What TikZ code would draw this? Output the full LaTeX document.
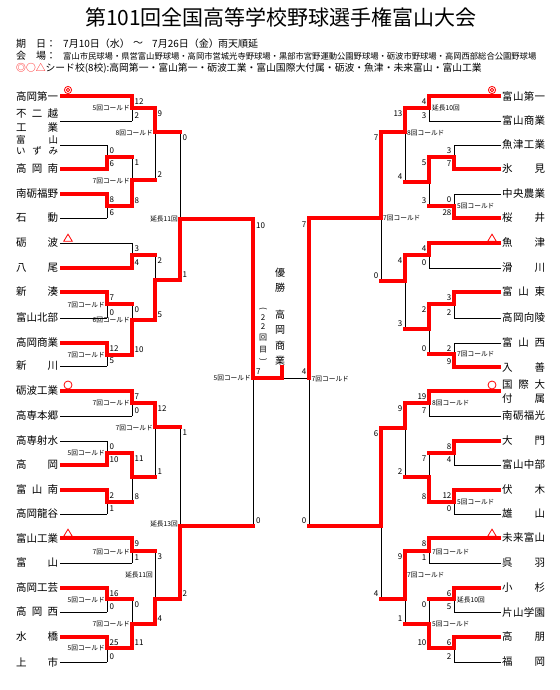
\documentclass[tikz,border=0pt]{standalone}
\usepackage{fontspec}
\setmainfont{Noto Sans CJK JP}
\pgfdeclarelayer{back}
\pgfdeclarelayer{bg}
\pgfsetlayers{back,bg,main}
\tikzset{
  blk/.style={line width=0.8pt, black},
  win/.style={line width=4pt, red, line cap=rect},
  winn/.style={line width=4pt, red},
  sc/.style={font=\fontsize{8}{8}\selectfont, inner sep=0pt},
  lbl/.style={font=\fontsize{6.7}{6.7}\selectfont, inner sep=0pt},
  tn/.style={font=\fontsize{10.5}{10.5}\selectfont, inner sep=0pt},
  tns/.style={font=\fontsize{9.5}{9.5}\selectfont, inner sep=0pt},
  hd/.style={font=\fontsize{10}{10}\selectfont, inner sep=0pt, anchor=west},
  vt/.style={font=\fontsize{10}{10}\selectfont, inner sep=0pt},
  vts/.style={font=\fontsize{8}{8}\selectfont, inner sep=0pt},
  mk/.style={red, line width=0.8pt},
}
% left match: x, xnext, ytop, ybot, ywin, winner(t/b), score top, score bottom
\newcommand{\bkL}[8]{%
  \begin{pgfonlayer}{bg}\draw[blk] (#1,#3) -- (#1,#4);\end{pgfonlayer}
  \if t#6\draw[win] (#1,#3) -- (#1,#5) -- (#2,#5);%
  \else\draw[win] (#1,#4) -- (#1,#5) -- (#2,#5);\fi
  \node[sc,anchor=west] at (#1+2.4,#3+6) {#7};
  \node[sc,anchor=west] at (#1+2.4,#4-5) {#8};
}
\newcommand{\bkR}[8]{%
  \begin{pgfonlayer}{bg}\draw[blk] (#1,#3) -- (#1,#4);\end{pgfonlayer}
  \if t#6\draw[win] (#1,#3) -- (#1,#5) -- (#2,#5);%
  \else\draw[win] (#1,#4) -- (#1,#5) -- (#2,#5);\fi
  \node[sc,anchor=east] at (#1-2.4,#3+6) {#7};
  \node[sc,anchor=east] at (#1-2.4,#4-5) {#8};
}
% name lines: y, xend, red(1/0)
\newcommand{\nlL}[3]{%
  \begin{pgfonlayer}{bg}\draw[blk] (60,#1) -- (#2,#1);\end{pgfonlayer}
  \ifnum#3=1 \draw[winn] (60,#1) -- (#2,#1);\fi}
\newcommand{\nlR}[3]{%
  \begin{pgfonlayer}{bg}\draw[blk] (501,#1) -- (#2,#1);\end{pgfonlayer}
  \ifnum#3=1 \draw[winn] (501,#1) -- (#2,#1);\fi}
\newcommand{\tnL}[2]{\node[tn,anchor=west] at (16,#1) {\makebox[42pt][s]{#2}};}
\newcommand{\tnR}[2]{\node[tn,anchor=west] at (502,#1) {\makebox[43pt][s]{#2}};}
\newcommand{\mkDbl}[2]{\draw[mk] (#1,#2) circle[radius=3.6pt]; \draw[mk] (#1,#2) circle[radius=1.7pt];}
\newcommand{\mkCir}[2]{\draw[mk] (#1,#2) circle[radius=4pt];}
\newcommand{\mkTri}[2]{\draw[mk] (#1-4.3,#2+3.3) -- (#1,#2-3.8) -- (#1+4.3,#2+3.3) -- cycle;}
\begin{document}
\begin{tikzpicture}[x=1pt,y=-1pt]
\useasboundingbox (0,0) rectangle (559,690);
\begin{pgfonlayer}{back}\fill[white] (0,0) rectangle (559,690);\end{pgfonlayer}

% ---------- header ----------
\node[font=\fontsize{21}{21}\selectfont, inner sep=0pt] (title) at (281,18) {第101回全国高等学校野球選手権富山大会};
\node[hd] (h1a) at (16,44) {期};
\node[hd] (h1b) at (36,44) {日：};
\node[hd] (h1c) at (63,44) {7月10日（水）};
\node[hd] (h1d) at (133,44) {～};
\node[hd] (h1e) at (152,44) {7月26日（金）};
\node[hd] (h1f) at (218,44) {雨天順延};
\node[hd] (h2a) at (16,56) {会};
\node[hd] (h2b) at (36,56) {場：};
\node[hd, font=\fontsize{8.3}{8.3}\selectfont] (h2c) at (63,56) {富山市民球場・県営富山野球場・高岡市営城光寺野球場・黒部市宮野運動公園野球場・砺波市野球場・高岡西部総合公園野球場};
\node[hd, font=\fontsize{9.8}{9.8}\selectfont] (h3) at (16,68) {\textcolor{red}{◎○△}シード校(8校):高岡第一・富山第一・砺波工業・富山国際大付属・砺波・魚津・未来富山・富山工業};

% ---------- left team names ----------
\tnL{96}{高\hfill 岡\hfill 第\hfill 一}
\node[tn,anchor=west] at (16,113) {\makebox[42pt][s]{不\hfill 二\hfill 越}};
\node[tn,anchor=west] at (16,128) {\makebox[42pt][s]{工\hfill 業}};
\node[tns,anchor=west] at (16,140) {\makebox[42pt][s]{富\hfill 山}};
\node[tns,anchor=west] at (16,151) {\makebox[42pt][s]{い\hfill ず\hfill み}};
\tnL{169}{高\hfill 岡\hfill 南}
\tnL{194}{南\hfill 砺\hfill 福\hfill 野}
\tnL{218}{石\hfill 動}
\tnL{243}{砺\hfill 波}
\tnL{268}{八\hfill 尾}
\tnL{292}{新\hfill 湊}
\tnL{318}{富\hfill 山\hfill 北\hfill 部}
\tnL{343}{高\hfill 岡\hfill 商\hfill 業}
\tnL{366}{新\hfill 川}
\tnL{391}{砺\hfill 波\hfill 工\hfill 業}
\tnL{416}{高\hfill 専\hfill 本\hfill 郷}
\tnL{441}{高\hfill 専\hfill 射\hfill 水}
\tnL{465}{高\hfill 岡}
\tnL{490}{富\hfill 山\hfill 南}
\tnL{514}{高\hfill 岡\hfill 龍\hfill 谷}
\tnL{538}{富\hfill 山\hfill 工\hfill 業}
\tnL{563}{富\hfill 山}
\tnL{588}{高\hfill 岡\hfill 工\hfill 芸}
\tnL{612}{高\hfill 岡\hfill 西}
\tnL{637}{水\hfill 橋}
\tnL{662}{上\hfill 市}

% ---------- right team names ----------
\tnR{96}{富\hfill 山\hfill 第\hfill 一}
\tnR{121}{富\hfill 山\hfill 商\hfill 業}
\tnR{145}{魚\hfill 津\hfill 工\hfill 業}
\tnR{169}{氷\hfill 見}
\tnR{194}{中\hfill 央\hfill 農\hfill 業}
\tnR{218}{桜\hfill 井}
\tnR{243}{魚\hfill 津}
\tnR{268}{滑\hfill 川}
\tnR{292}{富\hfill 山\hfill 東}
\tnR{318}{高\hfill 岡\hfill 向\hfill 陵}
\tnR{343}{富\hfill 山\hfill 西}
\tnR{367}{入\hfill 善}
\node[tn,anchor=west] at (502,385) {\makebox[43pt][s]{国\hfill 際\hfill 大}};
\node[tn,anchor=west] at (502,399) {\makebox[43pt][s]{付\hfill 属}};
\tnR{416}{南\hfill 砺\hfill 福\hfill 光}
\tnR{441}{大\hfill 門}
\tnR{465}{富\hfill 山\hfill 中\hfill 部}
\tnR{490}{伏\hfill 木}
\tnR{514}{雄\hfill 山}
\tnR{538}{未\hfill 来\hfill 富\hfill 山}
\tnR{563}{呉\hfill 羽}
\tnR{588}{小\hfill 杉}
\tnR{612}{片\hfill 山\hfill 学\hfill 園}
\tnR{637}{高\hfill 朋}
\tnR{662}{福\hfill 岡}

% ---------- seed marks ----------
\mkDbl{68}{90} \mkTri{68}{238} \mkCir{68}{385} \mkTri{68}{533}
\mkDbl{492}{90} \mkTri{492}{238} \mkCir{492}{385} \mkTri{492}{533}

% ---------- left name lines ----------
\nlL{96}{132}{1} \nlL{121}{132}{0} \nlL{145}{107}{0} \nlL{169}{107}{1}
\nlL{194}{107}{1} \nlL{218}{107}{0} \nlL{243}{132}{0} \nlL{268}{132}{1}
\nlL{292}{107}{1} \nlL{318}{107}{0} \nlL{343}{107}{1} \nlL{366}{107}{0}
\nlL{391}{132}{1} \nlL{416}{132}{0} \nlL{441}{107}{0} \nlL{465}{107}{1}
\nlL{490}{107}{1} \nlL{514}{107}{0} \nlL{538}{132}{1} \nlL{563}{132}{0}
\nlL{588}{107}{1} \nlL{612}{107}{0} \nlL{637}{107}{1} \nlL{662}{107}{0}

% ---------- right name lines ----------
\nlR{96}{429}{1} \nlR{121}{429}{0} \nlR{145}{454}{0} \nlR{169}{454}{1}
\nlR{194}{454}{0} \nlR{218}{454}{1} \nlR{243}{429}{1} \nlR{268}{429}{0}
\nlR{292}{454}{1} \nlR{318}{454}{0} \nlR{343}{454}{0} \nlR{367}{454}{1}
\nlR{391}{429}{1} \nlR{416}{429}{0} \nlR{441}{454}{1} \nlR{465}{454}{0}
\nlR{490}{454}{1} \nlR{514}{454}{0} \nlR{538}{429}{1} \nlR{563}{429}{0}
\nlR{588}{454}{1} \nlR{612}{454}{0} \nlR{637}{454}{1} \nlR{662}{454}{0}

% ---------- left matches ----------
\bkL{132}{155}{96}{121}{108}{t}{12}{2}
\bkL{107}{132}{145}{169}{157}{b}{0}{6}
\bkL{107}{132}{194}{218}{206}{t}{8}{6}
\bkL{132}{155}{157}{206}{180}{b}{1}{8}
\bkL{155}{180}{108}{180}{132}{t}{9}{2}
\bkL{132}{155}{243}{268}{255}{b}{3}{4}
\bkL{107}{132}{292}{318}{304}{t}{7}{0}
\bkL{107}{132}{343}{366}{355}{t}{12}{5}
\bkL{132}{155}{304}{355}{320}{b}{0}{10}
\bkL{155}{180}{255}{320}{280}{b}{2}{5}
\bkL{180}{253}{132}{280}{219}{b}{0}{1}
\bkL{132}{155}{391}{416}{403}{t}{7}{0}
\bkL{107}{132}{441}{465}{453}{b}{0}{10}
\bkL{107}{132}{490}{514}{502}{t}{2}{1}
\bkL{132}{155}{453}{502}{477}{t}{11}{8}
\bkL{155}{180}{403}{477}{427}{t}{12}{1}
\bkL{132}{155}{538}{563}{551}{t}{9}{1}
\bkL{107}{132}{588}{612}{599}{t}{16}{0}
\bkL{107}{132}{637}{662}{648}{t}{25}{0}
\bkL{132}{155}{599}{648}{624}{b}{0}{11}
\bkL{155}{180}{551}{624}{599}{b}{3}{4}
\bkL{180}{253}{427}{599}{526}{b}{1}{2}

% left labels
\node[lbl,anchor=east] at (130,108) {5回コールド};
\node[lbl,anchor=east] at (130,181) {7回コールド};
\node[lbl,anchor=east] at (153,133) {8回コールド};
\node[lbl,anchor=east] at (105,305) {7回コールド};
\node[lbl,anchor=east] at (105,355) {7回コールド};
\node[lbl,anchor=east] at (130,320) {6回コールド};
\node[lbl,anchor=east] at (178,219) {延長11回};
\node[lbl,anchor=east] at (130,403) {7回コールド};
\node[lbl,anchor=east] at (105,453) {5回コールド};
\node[lbl,anchor=east] at (153,428) {7回コールド};
\node[lbl,anchor=east] at (130,552) {7回コールド};
\node[lbl,anchor=east] at (105,600) {5回コールド};
\node[lbl,anchor=east] at (105,648) {5回コールド};
\node[lbl,anchor=east] at (130,624) {7回コールド};
\node[lbl,anchor=east] at (153,575) {延長11回};
\node[lbl,anchor=east] at (178,524) {延長13回};

% ---------- right matches ----------
\bkR{429}{405}{96}{121}{108}{t}{4}{3}
\bkR{454}{429}{145}{169}{157}{b}{3}{7}
\bkR{454}{429}{194}{218}{206}{b}{0}{28}
\bkR{429}{405}{157}{206}{182}{t}{5}{3}
\bkR{405}{381}{108}{182}{132}{t}{13}{4}
\bkR{429}{405}{243}{268}{255}{t}{4}{0}
\bkR{454}{429}{292}{318}{304}{t}{3}{2}
\bkR{454}{429}{343}{367}{354}{b}{2}{9}
\bkR{429}{405}{304}{354}{329}{t}{2}{0}
\bkR{405}{381}{255}{329}{281}{t}{4}{3}
\bkR{381}{309}{132}{281}{218}{t}{7}{0}
\bkR{429}{405}{391}{416}{403}{t}{19}{7}
\bkR{454}{429}{441}{465}{453}{t}{8}{4}
\bkR{454}{429}{490}{514}{502}{t}{12}{0}
\bkR{429}{405}{453}{502}{477}{b}{7}{8}
\bkR{405}{381}{403}{477}{428}{t}{9}{2}
\bkR{429}{405}{538}{563}{551}{t}{8}{1}
\bkR{454}{429}{588}{612}{599}{t}{6}{5}
\bkR{454}{429}{637}{662}{648}{t}{6}{2}
\bkR{429}{405}{599}{648}{624}{b}{0}{10}
\bkR{405}{381}{551}{624}{599}{t}{9}{1}
\bkR{381}{309}{428}{599}{526}{t}{6}{4}

% right labels
\node[lbl,anchor=west] at (432,108) {延長10回};
\node[lbl,anchor=west] at (457,206) {5回コールド};
\node[lbl,anchor=west] at (407,133) {8回コールド};
\node[lbl,anchor=west] at (457,354) {7回コールド};
\node[lbl,anchor=west] at (383,218) {7回コールド};
\node[lbl,anchor=west] at (432,403) {8回コールド};
\node[lbl,anchor=west] at (457,502) {5回コールド};
\node[lbl,anchor=west] at (432,552) {7回コールド};
\node[lbl,anchor=west] at (457,600) {延長10回};
\node[lbl,anchor=west] at (432,624) {5回コールド};
\node[lbl,anchor=west] at (407,575) {7回コールド};

% ---------- semifinals and final ----------
\begin{pgfonlayer}{bg}
\draw[blk] (253,219) -- (253,526);
\draw[blk] (309,218) -- (309,526);
\draw[blk] (253,378) -- (309,378);
\end{pgfonlayer}
\draw[win] (253,219) -- (253,378) -- (282,378) -- (282,367);
\draw[win] (309,218) -- (309,378);
\node[sc,anchor=west] at (256,226) {10};
\node[sc,anchor=west] at (256,521) {0};
\node[sc,anchor=west] at (256,372) {7};
\node[sc,anchor=east] at (306.5,225) {7};
\node[sc,anchor=east] at (306.5,521) {0};
\node[sc,anchor=east] at (306.5,372) {4};
\node[lbl,anchor=east] at (251,378) {5回コールド};
\node[lbl,anchor=west] at (311.5,379) {7回コールド};

% ---------- champion text ----------
\node[vt] at (280,273) {優};
\node[vt] at (280,288) {勝};
\node[vt] at (280,315) {高};
\node[vt] at (280,330) {岡};
\node[vt] at (280,346) {商};
\node[vt] at (280,361) {業};
\node[vts,rotate=-90] at (263,309) {(};
\node[vts] at (263,318) {2};
\node[vts] at (263,327) {2};
\node[vts] at (263,338) {回};
\node[vts] at (263,350) {目};
\node[vts,rotate=-90] at (263,360) {)};
\end{tikzpicture}
\end{document}
